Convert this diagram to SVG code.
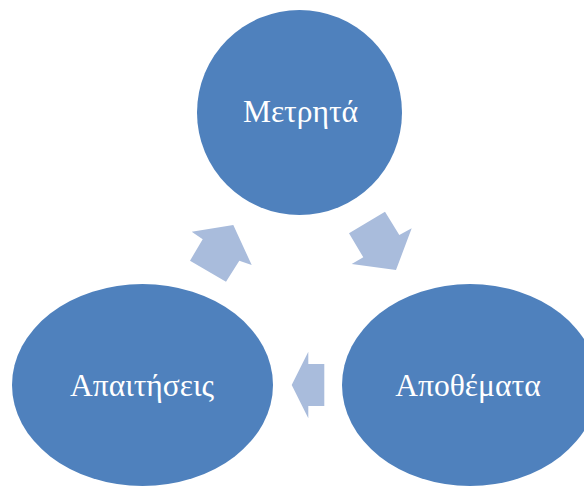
<svg xmlns="http://www.w3.org/2000/svg" width="584" height="487" viewBox="0 0 584 487">
  <style>
    .node { fill: #4F81BD; }
    .label { fill: #FFFFFF; font-family: "Liberation Serif", "Times New Roman", serif; font-size: 31.5px; text-anchor: middle; }
    .flow { fill: #A9BCDC; }
  </style>
  <rect width="584" height="487" fill="#FFFFFF"/>
  <g id="connectors">
    <!-- cash -> inventory -->
    <polygon class="flow" points="349,233.3 385,211.7 399.3,235 411.7,228.3 396,270 351.7,264 363.3,257.3"/>
    <!-- inventory -> receivables -->
    <polygon class="flow" points="291.7,385 308.3,351.7 308.3,364 324.3,364 324.3,406 308.3,406 308.3,418.3"/>
    <!-- receivables -> cash -->
    <polygon class="flow" points="190,260.7 202.7,239.3 191.7,231.7 233.3,225 251.7,265 239.3,260.7 226,281.7"/>
  </g>
  <g id="node-cash">
    <ellipse class="node" cx="299.5" cy="112.5" rx="102.5" ry="102.5"/>
    <text class="label" x="300.5" y="122">Μετρητά</text>
  </g>
  <g id="node-inventory">
    <ellipse class="node" cx="470" cy="385" rx="128" ry="101"/>
    <text class="label" x="468" y="396">Αποθέματα</text>
  </g>
  <g id="node-receivables">
    <ellipse class="node" cx="142.5" cy="385" rx="130.5" ry="101"/>
    <text class="label" x="142" y="396">Απαιτήσεις</text>
  </g>
</svg>
